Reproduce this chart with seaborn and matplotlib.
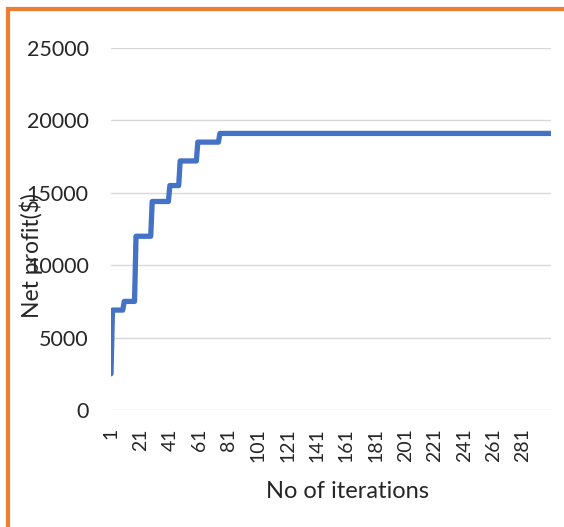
import numpy as np
import pandas as pd
import matplotlib
matplotlib.use("Agg")
import matplotlib.pyplot as plt
import seaborn as sns
from matplotlib.patches import Rectangle

# Data: profit holds a level until the next improvement
step_start = [1, 2, 10, 18, 29, 41, 48, 60, 75]          # iteration where a new level begins
step_profit = [2500, 6900, 7500, 12000, 14400, 15500, 17200, 18500, 19100]
n_iterations = 300
x_tick_labels = [str(i) for i in range(1, 300, 20)]
y_ticks = [0, 5000, 10000, 15000, 20000, 25000]

# expand the levels to one value per iteration
counts = np.diff(step_start + [n_iterations + 1])
df = pd.DataFrame({
    "iteration": np.arange(1, n_iterations + 1),
    "profit": np.repeat(step_profit, counts),
})

sns.set_style("white")
plt.rcParams["font.family"] = ["Lato", "DejaVu Sans"]

fig = plt.figure(figsize=(5.64, 5.27), dpi=100)
ax = fig.add_axes([111 / 564, 1 - 410 / 527, 440 / 564, 362 / 527])

sns.lineplot(data=df, x="iteration", y="profit", ax=ax,
             color="#4472C4", linewidth=3.8, solid_capstyle="round")

ax.set_xlim(1, n_iterations)
ax.set_ylim(0, 25000)
ax.set_yticks(y_ticks)
ax.set_yticklabels([str(v) for v in y_ticks], fontsize=15.5)
ax.set_xticks([int(t) for t in x_tick_labels])
ax.set_xticklabels(x_tick_labels, rotation=90, fontsize=14)
ax.tick_params(axis="y", length=0, pad=16)
ax.tick_params(axis="x", length=0, pad=13)

ax.grid(axis="y", color="#D9D9D9", linewidth=1.0)
ax.set_axisbelow(True)
for s in ax.spines.values():
    s.set_visible(False)

ax.set_xlabel("No of iterations", fontsize=17, va="center")
ax.xaxis.set_label_coords((347 - 111) / 440, (410 - 492) / 362)
ax.set_ylabel("Net profit($)", fontsize=16.5, va="center")
ax.yaxis.set_label_coords((31 - 111) / 440, (410 - 256) / 362)

# orange frame on the left and top edges
fig.add_artist(Rectangle((8 / 564, -0.2), 1.5, 1.2 - 8.5 / 527,
                         transform=fig.transFigure, fill=False,
                         edgecolor="#ED7D31", linewidth=3, clip_on=False))

fig.savefig("out.png", dpi=100)
